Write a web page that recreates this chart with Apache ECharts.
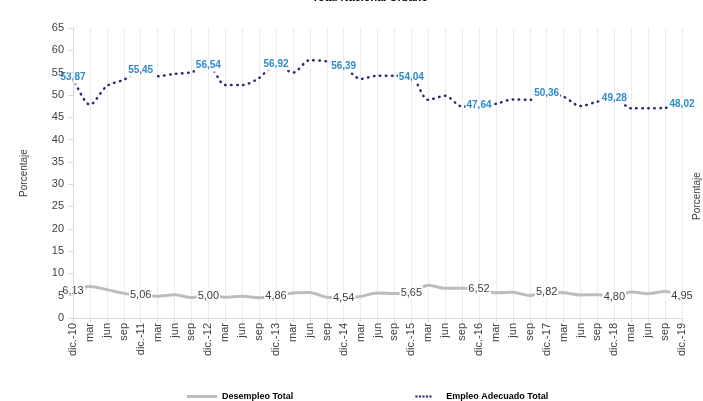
<!DOCTYPE html>
<html><head><meta charset="utf-8">
<script src="https://cdn.jsdelivr.net/npm/echarts@6/dist/echarts.min.js"></script>
<style>html,body{margin:0;padding:0;background:#fff}#c{width:703px;height:401px}</style>
</head><body><div id="c"></div>
<script>
const categories = ['dic.-10','mar','jun','sep','dic.-11','mar','jun','sep','dic.-12','mar','jun','sep','dic.-13','mar','jun','sep','dic.-14','mar','jun','sep','dic.-15','mar','jun','sep','dic.-16','mar','jun','sep','dic.-17','mar','jun','sep','dic.-18','mar','jun','sep','dic.-19'];
const desempleo = [6.13,7.04,6.36,5.52,5.06,4.88,5.19,4.60,5.00,4.64,4.89,4.55,4.86,5.60,5.71,4.65,4.54,4.84,5.58,5.48,5.65,7.35,6.68,6.68,6.52,5.64,5.78,5.06,5.82,5.65,5.17,5.21,4.80,5.85,5.45,5.95,4.95];
const empleo = [53.87,47.8,52.0,53.4,55.45,54.2,54.7,55.1,56.54,52.2,52.2,53.8,56.92,55.0,57.8,57.5,56.39,53.6,54.3,54.3,54.04,48.9,49.8,47.4,47.64,48.0,49.0,48.9,50.36,49.6,47.5,48.5,49.28,47.0,47.0,47.1,48.02];
const yTicks = {min:0, max:65, interval:5};
const fmt = v => v.toFixed(2).replace('.', ',');
const FONT = 'Liberation Sans, Arial';
const dotsIcon = 'path://M0,1h0.01v0.01h-0.01z M4,0h2.2v2.2h-2.2z M7.5,0h2.2v2.2h-2.2z M11,0h2.2v2.2h-2.2z M14.5,0h2.2v2.2h-2.2z M18,0h2.2v2.2h-2.2z M30,1h0.01v0.01h-0.01z';
const chart = echarts.init(document.getElementById('c'));
chart.setOption({
  animation:false,
  title:{text:'Total Nacional Urbano', left:365, textAlign:'center', top:-13,
    textStyle:{fontFamily:FONT, fontSize:11, fontWeight:'bold', color:'#000'}},
  grid:{left:73, right:21, top:28, bottom:83},
  legend:{top:387, left:182, itemGap:118, itemWidth:30, itemHeight:3,
    textStyle:{fontFamily:FONT, fontSize:9, fontWeight:'bold', color:'#000'},
    data:[{name:'Desempleo Total', icon:'path://M0,0H30V3H0Z'},
          {name:'Empleo Adecuado Total', icon:dotsIcon}]},
  xAxis:{type:'category', data:categories, boundaryGap:false,
    axisLine:{lineStyle:{color:'#D9D9D9'}},
    axisTick:{show:true, length:4, lineStyle:{color:'#D9D9D9'}},
    axisLabel:{rotate:90, interval:0, margin:5, color:'#404040', fontSize:11, fontFamily:FONT},
    splitLine:{show:true, lineStyle:{color:'#EBEBEB'}}},
  yAxis:{type:'value', min:yTicks.min, max:yTicks.max, interval:yTicks.interval, z:10,
    name:'Porcentaje', nameLocation:'middle', nameGap:44, nameRotate:90,
    nameTextStyle:{fontFamily:FONT, fontSize:10, color:'#404040'},
    axisLine:{show:true, lineStyle:{color:'#D9D9D9'}},
    axisTick:{show:true, length:5, lineStyle:{color:'#D9D9D9'}},
    axisLabel:{color:'#404040', fontSize:11, margin:9, fontFamily:FONT},
    splitLine:{show:false}},
  graphic:[{type:'text', x:697, y:196, rotation:Math.PI/2,
    style:{text:'Porcentaje', font:'10px "Liberation Sans", Arial', fill:'#404040', textAlign:'center', textVerticalAlign:'middle'}}],
  series:[
    {name:'Desempleo Total', type:'line', smooth:0.3, symbol:'none',
      lineStyle:{color:'#BDBDC1', width:3}, itemStyle:{color:'#BDBDC1'},
      data: desempleo.map((v,i)=>({value:v, symbol: i%4===0?'circle':'none', symbolSize:1,
        label:{show:i%4===0}})),
      label:{position:'inside', formatter:p=>fmt(p.value), color:'#404040', fontSize:11,
        fontFamily:FONT, backgroundColor:'#fff', padding:[1,1]},
      z:3},
    {name:'Empleo Adecuado Total', type:'line', smooth:0.3, symbol:'none',
      lineStyle:{color:'#2B2A6E', width:2.5, type:[0.5,5.5], cap:'round'}, itemStyle:{color:'#2B2A6E'},
      data: empleo.map((v,i)=>({value:v, symbol: i%4===0?'circle':'none', symbolSize:1,
        label:{show:i%4===0}})),
      label:{position:'inside', formatter:p=>fmt(p.value), color:'#2E8BCB', fontSize:10, fontWeight:'bold',
        fontFamily:FONT, backgroundColor:'#fff', padding:[1,1]},
      z:4}
  ]
});
</script></body></html>
